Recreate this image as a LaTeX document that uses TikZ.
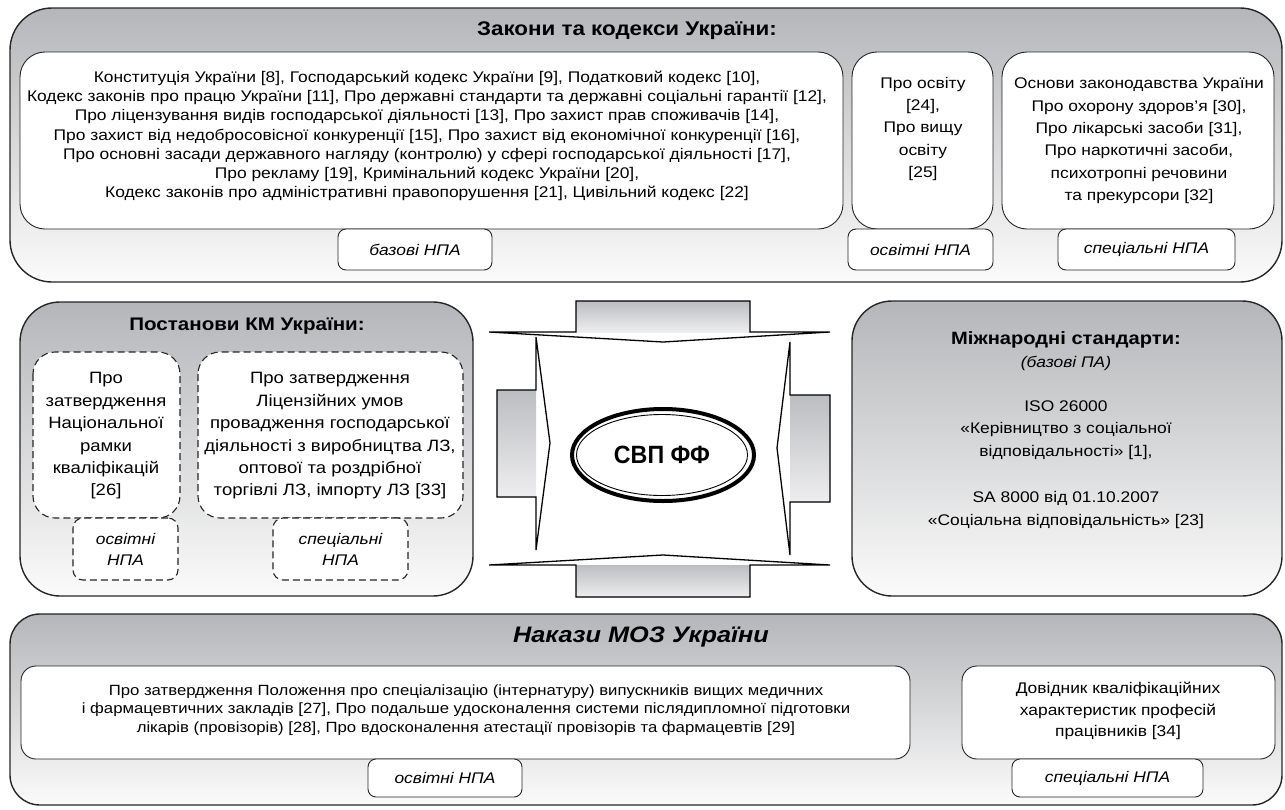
\documentclass[tikz,border=0pt]{standalone}
\usepackage{fontspec}
\setmainfont[FakeStretch=1.13]{Liberation Sans}
\newfontfamily\ovalfont[FakeStretch=0.93]{Liberation Sans}
\usetikzlibrary{shapes.geometric}
\definecolor{boxgray}{RGB}{181,182,185}
\definecolor{boxwhite}{RGB}{251,251,251}
\definecolor{shaftgray}{RGB}{188,189,192}
\definecolor{shaftwhite}{RGB}{238,238,240}
\tikzset{
  outerbox/.style={draw=black!85, line width=1.4pt, top color=boxgray, bottom color=boxwhite},
  lawbox/.style={draw=black!85, line width=0.9pt, fill=white},
  dashbox/.style={lawbox, line width=1.1pt, dash pattern=on 7pt off 4pt},
  tagbox/.style={lawbox, rounded corners=8pt, inner sep=0pt, font=\fontsize{15.4}{17}\selectfont\itshape},
  dashtag/.style={dashbox, rounded corners=10pt, inner sep=0pt, align=center, font=\fontsize{15.4}{21}\selectfont\itshape},
  arrowline/.style={draw=black, line width=1.3pt, line join=miter},
  shaft/.style={top color=shaftgray, bottom color=shaftwhite},
  bodytext/.style={align=center, inner sep=0pt, font=\fontsize{15.4}{19.2}\selectfont},
  widetext/.style={align=center, inner sep=0pt, font=\fontsize{15.4}{22.4}\selectfont},
  titletext/.style={inner sep=0pt, font=\fontsize{19.8}{22}\selectfont\bfseries}
}
\begin{document}
\begin{tikzpicture}[x=1pt,y=1pt,yscale=-1,xscale=1]
\useasboundingbox (0,0) rectangle (1285,809);

%Shape: Rounded Rectangle [laws]
\draw[outerbox, rounded corners=42pt] (10,8) rectangle (1282,282);
\draw[lawbox, rounded corners=25pt] (20,52) rectangle (843,229);
\draw[lawbox, rounded corners=25pt] (852,52) rectangle (993,229);
\draw[lawbox, rounded corners=25pt] (1002,52) rectangle (1274,229);

% Text Node
\draw (627,31) node (lawsTitle) [titletext] {Закони та кодекси України:};
% Text Node
\draw (427,136) node (lawsBase) [bodytext] {Конституція України [8], Господарський кодекс України [9], Податковий кодекс [10],\\
Кодекс законів про працю України [11], Про державні стандарти та державні соціальні гарантії [12],\\
Про ліцензування видів господарської діяльності [13], Про захист прав споживачів [14],\\
Про захист від недобросовісної конкуренції [15], Про захист від економічної конкуренції [16],\\
Про основні засади державного нагляду (контролю) у сфері господарської діяльності [17],\\
Про рекламу [19], Кримінальний кодекс України [20],\\
Кодекс законів про адміністративні правопорушення [21], Цивільний кодекс [22]};
% Text Node
\draw (923,129) node (lawsEdu) [widetext] {Про освіту\\ {[24]},\\ Про вищу\\ освіту\\ {[25]}};
% Text Node
\draw (1139,141) node (lawsSpec) [widetext] {Основи законодавства України\\ Про охорону здоров’я [30],\\ Про лікарські засоби [31],\\ Про наркотичні засоби,\\ психотропні речовини\\ та прекурсори [32]};
% Text Node
\node (tagBase1) [tagbox, minimum width=154pt, minimum height=41pt] at (415,249.5) {базові НПА};
\node (tagEdu1) [tagbox, minimum width=145pt, minimum height=41pt] at (920.5,249.5) {освітні НПА};
\node (tagSpec1) [tagbox, minimum width=177pt, minimum height=41pt] at (1146.5,249.5) {спеціальні НПА};

%Shape: Rounded Rectangle [resolutions]
\draw[outerbox, rounded corners=40pt] (20,302) rectangle (473,596);
\draw[dashbox, rounded corners=22pt] (33,352) rectangle (180,518);
\draw[dashbox, rounded corners=22pt] (198,352) rectangle (463,518);
% Text Node
\draw (247,326) node (resTitle) [titletext, font=\fontsize{18.2}{22}\selectfont\bfseries] {Постанови КМ України:};
% Text Node
\draw (106,436) node (resEdu) [widetext, font=\fontsize{16.4}{22.4}\selectfont] {Про\\ затвердження\\ Національної\\ рамки\\ кваліфікацій\\ {[26]}};
% Text Node
\draw (330,436) node (resSpec) [widetext, font=\fontsize{16.4}{22.4}\selectfont] {Про затвердження\\ Ліцензійних умов\\ провадження господарської\\ діяльності з виробництва ЛЗ,\\ оптової та роздрібної\\ торгівлі ЛЗ, імпорту ЛЗ [33]};
% Text Node
\node (tagEdu2) [dashtag, minimum width=105pt, minimum height=62pt] at (125.5,549) {освітні\\ НПА};
\node (tagSpec2) [dashtag, minimum width=135pt, minimum height=62pt] at (340.5,549) {спеціальні\\ НПА};

%Shape: Rounded Rectangle [standards]
\draw[outerbox, rounded corners=40pt] (852,301) rectangle (1282,596);
% Text Node
\draw (1066,340) node (stdTitle) [titletext, font=\fontsize{17.8}{20}\selectfont\bfseries] {Міжнародні стандарти:};
\draw (1066,363) node (stdSub) [bodytext, font=\fontsize{15.4}{17}\selectfont\itshape] {(базові ПА)};
\draw (1066,430) node (stdIso) [widetext] {ISO 26000\\ «Керівництво з соціальної\\ відповідальності» [1],};
\draw (1066,510) node (stdSa) [widetext] {SA 8000 від 01.10.2007\\ «Соціальна відповідальність» [23]};

%Shape: Arrows [centre]
\shade[shaft] (576,301) rectangle (750,332);
\draw[arrowline] (489,332) -- (576,332) -- (576,301) -- (750,301) -- (750,332) -- (830,332) -- (663,342) -- cycle;
\shade[shaft] (576,565) rectangle (750,597);
\draw[arrowline] (489,565) -- (576,565) -- (576,597) -- (750,597) -- (750,565) -- (830,565) -- (663,555) -- cycle;
\shade[shaft] (497,390) rectangle (536,497);
\draw[arrowline] (536,337) -- (536,390) -- (497,390) -- (497,497) -- (536,497) -- (536,550) -- (550,443) -- cycle;
\shade[shaft] (790,395) rectangle (830,502);
\draw[arrowline] (790,342) -- (790,395) -- (830,395) -- (830,502) -- (790,502) -- (790,555) -- (777,448) -- cycle;
% Ellipse Node
\node (core) [ellipse, draw, line width=4pt, minimum width=182pt, minimum height=92pt, inner sep=0pt] at (663,455) {};
\node (coreText) [ellipse, draw, line width=0.9pt, minimum width=171pt, minimum height=81pt, inner sep=0pt,
  font=\ovalfont\fontsize{25}{30}\selectfont\bfseries] at (662,455) {СВП ФФ};

%Shape: Rounded Rectangle [orders]
\draw[outerbox, rounded corners=30pt] (10,614) rectangle (1282,805);
\draw[lawbox, rounded corners=15pt] (21,666) rectangle (910,759);
\draw[lawbox, rounded corners=15pt] (962,666) rectangle (1275,759);
% Text Node
\draw (641,637) node (ordTitle) [titletext, font=\fontsize{22.4}{24}\selectfont\bfseries\itshape] {Накази МОЗ України};
% Text Node
\draw (466,710) node (ordEdu) [bodytext, font=\fontsize{14.8}{18.6}\selectfont] {Про затвердження Положення про спеціалізацію (інтернатуру) випускників вищих медичних\\
і фармацевтичних закладів [27], Про подальше удосконалення системи післядипломної підготовки\\
лікарів (провізорів) [28], Про вдосконалення атестації провізорів та фармацевтів [29]};
% Text Node
\draw (1118,711) node (ordSpec) [widetext, font=\fontsize{15.4}{21.5}\selectfont] {Довідник кваліфікаційних\\ характеристик професій\\ працівників [34]};
% Text Node
\node (tagEdu3) [tagbox, minimum width=154pt, minimum height=38pt] at (445,778) {освітні НПА};
\node (tagSpec3) [tagbox, minimum width=191pt, minimum height=38pt] at (1107.5,778) {спеціальні НПА};

\end{tikzpicture}
\end{document}
